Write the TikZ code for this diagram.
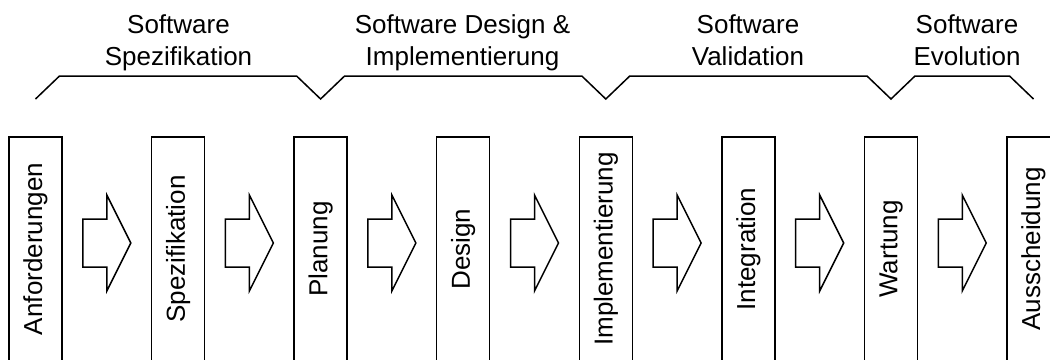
\documentclass[tikz,border=0pt]{standalone}
\usepackage{fontspec}
\setmainfont{Liberation Sans}
\usetikzlibrary{calc}
\begin{document}
\begin{tikzpicture}[x=1pt,y=-1pt,
  stepbox/.style={draw, line width=1.5pt, rotate=90, minimum width=224pt, minimum height=53pt, inner sep=0pt, font=\fontsize{26}{31}\selectfont},
  blockarrow/.style={draw, line width=1.5pt, line join=miter},
  phase/.style={align=center, inner sep=0pt, anchor=north, font=\fontsize{26}{32}\selectfont},
  brace/.style={draw, line width=1.5pt, line join=miter}]
\useasboundingbox (0,0) rectangle (1050,359);
\clip (0,0) rectangle (1050,359);
% phase boxes
\node[stepbox] (b1) at (35.5,249) {Anforderungen};
\node[stepbox] (b2) at (178.1,249) {Spezifikation};
\node[stepbox] (b3) at (320.6,249) {Planung};
\node[stepbox] (b4) at (463.2,249) {Design};
\node[stepbox] (b5) at (605.8,249) {Implementierung};
\node[stepbox] (b6) at (748.4,249) {Integration};
\node[stepbox] (b7) at (891.0,249) {Wartung};
\node[stepbox] (b8) at (1033.5,249) {Ausscheidung};
% block arrows between boxes
\foreach \a/\b in {b1/b2,b2/b3,b3/b4,b4/b5,b5/b6,b6/b7,b7/b8}{
  \draw[blockarrow] ($(\a)!0.5!(\b)+(0,-6)$) ++(-24,-24) -- ++(24,0) -- ++(0,-24)
     -- ++(24,48) -- ++(-24,48) -- ++(0,-24) -- ++(-24,0) -- cycle;
}
% brace anchor points
\path (b1.center) ++(0,-150) coordinate (v1);
\path (b3.center) ++(0,-150) coordinate (v3);
\path (b5.center) ++(0,-150) coordinate (v5);
\path (b7.center) ++(0,-150) coordinate (v7);
\path (b8.center) ++(0,-150) coordinate (v8);
\draw[brace] (v1) -- ++(24,-23) -- ($(v3)+(-24,-23)$) -- (v3) -- ++(24,-23)
  -- ($(v5)+(-24,-23)$) -- (v5) -- ++(24,-23) -- ($(v7)+(-24,-23)$) -- (v7)
  -- ++(24,-23) -- ($(v8)+(-24,-23)$) -- (v8);
% phase labels
\node[phase] (p1) at (178.5,14) {Software\\Spezifikation};
\node[phase] (p2) at (462.5,14) {Software Design \&\\Implementierung};
\node[phase] (p3) at (748,14) {Software\\Validation};
\node[phase] (p4) at (967,14) {Software\\Evolution};
\end{tikzpicture}
\end{document}
